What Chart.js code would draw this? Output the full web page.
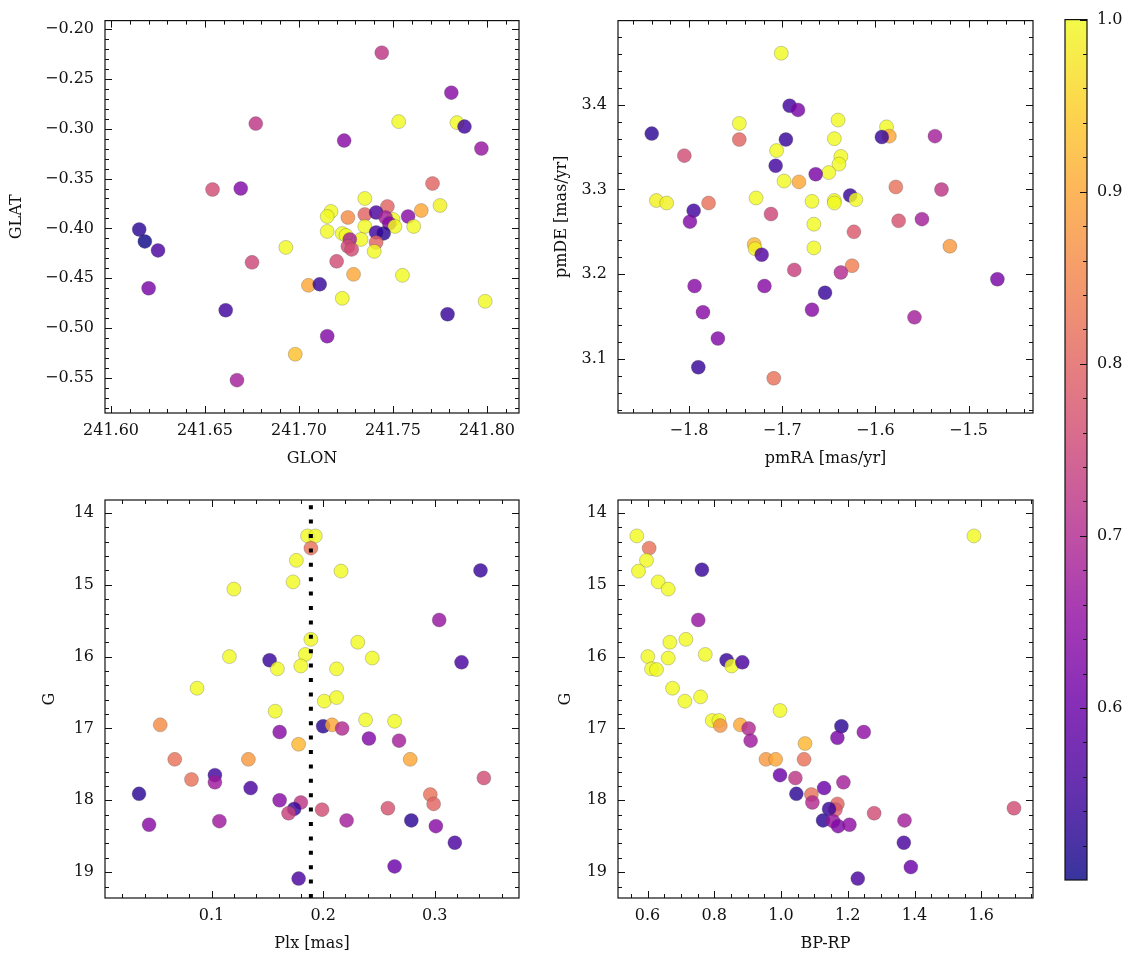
<!DOCTYPE html>
<html>
<head>
<meta charset="utf-8">
<script src="https://cdn.jsdelivr.net/npm/chart.js@4.4.1/dist/chart.umd.min.js"></script>
<style>
  html, body { margin: 0; padding: 0; background: #fff; }
  #fig { position: relative; width: 1133px; height: 965px; }
  #fig canvas { position: absolute; left: 0; top: 0; }
</style>
</head>
<body>
<div id="fig">
  <canvas id="posChart" width="1133" height="965"></canvas>
  <canvas id="pmChart" width="1133" height="965"></canvas>
  <canvas id="plxChart" width="1133" height="965"></canvas>
  <canvas id="cmdChart" width="1133" height="965"></canvas>
  <canvas id="cbar" width="1133" height="965"></canvas>
</div>
<script>
'use strict';

// ---- data -----------------------------------------------------------------
// panel 1: sky position
const glon = [241.677, 241.654, 241.669, 241.615, 241.618, 241.625, 241.620, 241.693, 241.675, 241.705,
  241.711, 241.661, 241.698, 241.667, 241.744, 241.781, 241.753, 241.784, 241.788, 241.724,
  241.797, 241.771, 241.735, 241.775, 241.747, 241.765, 241.717, 241.715, 241.726, 241.735,
  241.741, 241.758, 241.750, 241.746, 241.748, 241.751, 241.761, 241.735, 241.715, 241.723,
  241.725, 241.741, 241.745, 241.733, 241.727, 241.741, 241.726, 241.728, 241.740, 241.720,
  241.729, 241.755, 241.723, 241.799, 241.779, 241.715];
const glat = [-0.295, -0.361, -0.360, -0.401, -0.413, -0.422, -0.460, -0.419, -0.434, -0.457,
  -0.456, -0.482, -0.526, -0.552, -0.224, -0.264, -0.293, -0.294, -0.298, -0.312,
  -0.320, -0.355, -0.370, -0.377, -0.378, -0.382, -0.383, -0.388, -0.389, -0.386,
  -0.384, -0.388, -0.391, -0.389, -0.395, -0.398, -0.398, -0.398, -0.403, -0.405,
  -0.407, -0.404, -0.405, -0.411, -0.411, -0.414, -0.418, -0.421, -0.423, -0.433,
  -0.446, -0.447, -0.470, -0.473, -0.486, -0.508];
const probPos = [0.72, 0.76, 0.63, 0.53, 0.50, 0.56, 0.62, 1.00, 0.75, 0.90,
  0.54, 0.55, 0.93, 0.68, 0.72, 0.64, 1.00, 1.00, 0.55, 0.64,
  0.66, 0.80, 1.00, 0.99, 0.80, 0.90, 1.00, 1.00, 0.86, 0.80,
  0.56, 0.64, 1.00, 0.68, 0.64, 1.00, 1.00, 1.00, 1.00, 1.00,
  1.00, 0.55, 0.53, 1.00, 0.68, 0.80, 0.76, 0.76, 1.00, 0.76,
  0.90, 1.00, 1.00, 1.00, 0.54, 0.63];

// panel 2: proper motions
const pmra = [-1.701, -1.692, -1.683, -1.840, -1.746, -1.746, -1.696, -1.805, -1.706, -1.707,
  -1.698, -1.682, -1.835, -1.824, -1.779, -1.795, -1.799, -1.728, -1.712, -1.730,
  -1.729, -1.722, -1.687, -1.794, -1.719, -1.785, -1.769, -1.790, -1.709, -1.640,
  -1.644, -1.588, -1.585, -1.593, -1.536, -1.637, -1.639, -1.650, -1.664, -1.578,
  -1.529, -1.668, -1.644, -1.644, -1.627, -1.621, -1.575, -1.550, -1.666, -1.623,
  -1.666, -1.520, -1.625, -1.637, -1.469, -1.654, -1.668, -1.558];
const pmde = [3.461, 3.399, 3.394, 3.366, 3.378, 3.359, 3.359, 3.340, 3.346, 3.328,
  3.310, 3.309, 3.287, 3.284, 3.284, 3.275, 3.262, 3.290, 3.271, 3.235,
  3.230, 3.223, 3.205, 3.186, 3.186, 3.155, 3.124, 3.090, 3.077, 3.382,
  3.360, 3.374, 3.363, 3.362, 3.363, 3.339, 3.330, 3.320, 3.318, 3.303,
  3.300, 3.286, 3.287, 3.284, 3.293, 3.288, 3.263, 3.265, 3.259, 3.250,
  3.231, 3.233, 3.210, 3.202, 3.194, 3.178, 3.158, 3.149];
const probPm = [1.00, 0.55, 0.62, 0.53, 1.00, 0.80, 0.54, 0.76, 1.00, 0.55,
  1.00, 0.90, 0.99, 0.99, 0.82, 0.55, 0.63, 1.00, 0.75, 0.92,
  0.99, 0.57, 0.74, 0.64, 0.64, 0.64, 0.63, 0.54, 0.82, 1.00,
  1.00, 1.00, 0.90, 0.54, 0.68, 1.00, 1.00, 1.00, 0.62, 0.82,
  0.72, 1.00, 1.00, 1.00, 0.54, 1.00, 0.77, 0.68, 1.00, 0.78,
  1.00, 0.88, 0.84, 0.70, 0.62, 0.54, 0.64, 0.68];

// panel 3: parallax vs G
const plx = [0.186, 0.193, 0.189, 0.176, 0.173, 0.120, 0.189, 0.184, 0.116, 0.152,
  0.159, 0.180, 0.087, 0.157, 0.054, 0.161, 0.178, 0.067, 0.133, 0.082,
  0.103, 0.103, 0.135, 0.035, 0.161, 0.180, 0.174, 0.169, 0.044, 0.107,
  0.178, 0.216, 0.341, 0.304, 0.231, 0.244, 0.324, 0.212, 0.201, 0.212,
  0.200, 0.208, 0.217, 0.238, 0.264, 0.241, 0.268, 0.278, 0.344, 0.296,
  0.299, 0.199, 0.258, 0.221, 0.279, 0.301, 0.318, 0.264];
const gPlx = [14.32, 14.32, 14.49, 14.66, 14.96, 15.06, 15.76, 15.97, 16.00, 16.05,
  16.17, 16.13, 16.44, 16.76, 16.95, 17.05, 17.22, 17.43, 17.43, 17.71,
  17.65, 17.75, 17.83, 17.91, 18.00, 18.03, 18.12, 18.18, 18.34, 18.29,
  19.09, 14.81, 14.80, 15.49, 15.80, 16.02, 16.08, 16.17, 16.62, 16.57,
  16.97, 16.95, 17.00, 16.88, 16.90, 17.14, 17.17, 17.43, 17.69, 17.92,
  18.05, 18.13, 18.11, 18.28, 18.28, 18.36, 18.59, 18.92];
const probPlx = [1.00, 1.00, 0.82, 1.00, 1.00, 1.00, 1.00, 1.00, 1.00, 0.54,
  1.00, 1.00, 1.00, 1.00, 0.86, 0.64, 0.92, 0.82, 0.88, 0.82,
  0.55, 0.67, 0.56, 0.53, 0.64, 0.72, 0.54, 0.74, 0.64, 0.67,
  0.56, 1.00, 0.54, 0.66, 1.00, 1.00, 0.56, 1.00, 1.00, 1.00,
  0.53, 0.90, 0.70, 1.00, 1.00, 0.63, 0.68, 0.90, 0.76, 0.82,
  0.80, 0.76, 0.77, 0.68, 0.53, 0.64, 0.56, 0.60];
const plxCut = 0.189;

// panel 4: colour-magnitude
const bprp = [0.568, 0.605, 0.597, 0.573, 0.763, 0.632, 0.662, 0.752, 0.667, 0.715,
  0.601, 0.662, 0.773, 0.612, 0.627, 0.837, 0.852, 0.884, 0.675, 0.712,
  0.759, 0.997, 0.794, 0.814, 0.818, 0.878, 0.903, 0.909, 1.072, 0.955,
  0.984, 1.069, 0.997, 1.043, 1.046, 1.578, 1.181, 1.169, 1.248, 1.187,
  1.129, 1.091, 1.094, 1.169, 1.163, 1.144, 1.279, 1.126, 1.156, 1.171,
  1.205, 1.370, 1.698, 1.368, 1.389, 1.230];
const gCmd = [14.32, 14.49, 14.66, 14.81, 14.79, 14.96, 15.06, 15.49, 15.80, 15.76,
  16.00, 16.02, 15.97, 16.17, 16.18, 16.05, 16.13, 16.08, 16.44, 16.62,
  16.56, 16.75, 16.89, 16.89, 16.96, 16.95, 17.00, 17.17, 17.21, 17.43,
  17.43, 17.43, 17.65, 17.69, 17.91, 14.32, 16.97, 17.13, 17.05, 17.75,
  17.83, 17.92, 18.03, 18.05, 18.13, 18.12, 18.18, 18.28, 18.29, 18.36,
  18.34, 18.28, 18.11, 18.59, 18.93, 19.09];
const probCmd = [1.00, 0.82, 1.00, 1.00, 0.54, 1.00, 1.00, 0.66, 1.00, 1.00,
  1.00, 1.00, 1.00, 1.00, 1.00, 0.54, 1.00, 0.56, 1.00, 1.00,
  1.00, 1.00, 1.00, 1.00, 0.87, 0.90, 0.70, 0.67, 0.92, 0.88,
  0.90, 0.82, 0.60, 0.72, 0.53, 1.00, 0.53, 0.62, 0.65, 0.68,
  0.60, 0.82, 0.70, 0.80, 0.78, 0.54, 0.76, 0.53, 0.66, 0.63,
  0.65, 0.68, 0.76, 0.56, 0.60, 0.56];

// tick labels
const glonTicks = [241.60, 241.65, 241.70, 241.75, 241.80];
const glatTicks = [-0.55, -0.50, -0.45, -0.40, -0.35, -0.30, -0.25, -0.20];
const pmraTicks = [-1.8, -1.7, -1.6, -1.5];
const pmdeTicks = [3.1, 3.2, 3.3, 3.4];
const plxTicks = [0.1, 0.2, 0.3];
const gTicks = [14, 15, 16, 17, 18, 19];
const bprpTicks = [0.6, 0.8, 1.0, 1.2, 1.4, 1.6];
const probTicks = [0.6, 0.7, 0.8, 0.9, 1.0];

// ---- styling ---------------------------------------------------------------
const FONT = 'DejaVu Serif';
const TICK_FONT = { family: FONT, size: 16 };
const TITLE_FONT = { family: FONT, size: 16, lineHeight: 1.2 };
const INK = '#111';
// plasma colormap sampled every 0.1
const PLASMA = ['#0d0887', '#41049d', '#6a00a8', '#8f0da4', '#b12a90', '#cc4778',
  '#e16462', '#f2844b', '#fca636', '#fcce25', '#f0f921'];
const P_MIN = 0.5, P_MAX = 1.0, ALPHA = 0.82;

Chart.defaults.font.family = FONT;
Chart.defaults.color = INK;

function rgbOf(hex) {
  return [parseInt(hex.slice(1, 3), 16), parseInt(hex.slice(3, 5), 16), parseInt(hex.slice(5, 7), 16)];
}
function plasma(t, a) {
  t = Math.min(1, Math.max(0, t));
  const f = t * (PLASMA.length - 1);
  const i = Math.min(Math.floor(f), PLASMA.length - 2);
  const u = f - i;
  const c0 = rgbOf(PLASMA[i]), c1 = rgbOf(PLASMA[i + 1]);
  const c = c0.map((v, k) => Math.round(v + (c1[k] - v) * u));
  return `rgba(${c[0]},${c[1]},${c[2]},${a})`;
}
const probColor = p => plasma((p - P_MIN) / (P_MAX - P_MIN), ALPHA);

const minus = s => s.replace('-', '\u2212');

// inward major/minor ticks on the frame, matplotlib "science" look
const frameTicks = {
  id: 'frameTicks',
  afterDraw(chart, args, opts) {
    const { ctx, chartArea: a } = chart;
    ctx.save();
    ctx.strokeStyle = INK;
    ctx.lineWidth = 1;
    ['x', 'y'].forEach(id => {
      const s = chart.scales[id];
      const minor = opts[id];
      if (!s || !minor || !s.options.display) return;
      const majors = s.ticks.map(t => t.value);
      const lo = Math.min(s.min, s.max), hi = Math.max(s.min, s.max);
      const marks = majors.map(v => [v, 7]);
      for (let k = Math.ceil(lo / minor - 1e-6); k * minor <= hi + 1e-9; k++) {
        const v = k * minor;
        if (!majors.some(m => Math.abs(m - v) < minor / 10)) marks.push([v, 4]);
      }
      const sides = opts.sides || ['left', 'right'];
      ctx.beginPath();
      marks.forEach(([v, len]) => {
        const p = Math.round(s.getPixelForValue(v)) + 0.5;
        if (id === 'x') {
          if (p < a.left || p > a.right) return;
          ctx.moveTo(p, a.bottom); ctx.lineTo(p, a.bottom - len);
          ctx.moveTo(p, a.top); ctx.lineTo(p, a.top + len);
        } else {
          if (p < a.top || p > a.bottom) return;
          if (sides.includes('left')) { ctx.moveTo(a.left, p); ctx.lineTo(a.left + len, p); }
          if (sides.includes('right')) { ctx.moveTo(a.right, p); ctx.lineTo(a.right - len, p); }
        }
      });
      ctx.stroke();
    });
    ctx.lineWidth = 1.2;
    ctx.strokeRect(a.left, a.top, a.right - a.left, a.bottom - a.top);
    ctx.restore();
  }
};

function axis(cfg) {
  const horizontal = cfg.pos === 'bottom';
  return {
    type: 'linear',
    position: cfg.pos,
    min: cfg.min, max: cfg.max,
    reverse: !!cfg.reverse,
    grid: { display: false, drawTicks: false },
    border: { display: false },
    afterBuildTicks: s => { s.ticks = cfg.ticks.map(v => ({ value: v })); },
    afterFit: s => { if (horizontal) s.height = cfg.size; else s.width = cfg.size; },
    ticks: {
      font: TICK_FONT, color: INK, maxRotation: 0, autoSkip: false,
      padding: horizontal ? 8.4 : 11,
      callback: v => minus(Number(v).toFixed(cfg.dec))
    },
    title: { display: !!cfg.title, text: cfg.title, font: TITLE_FONT, color: INK, padding: 0 }
  };
}

function scatterPanel(id, xs, ys, ps, o) {
  const datasets = [{
    type: 'scatter',
    order: 1,
    data: xs.map((x, i) => ({ x, y: ys[i] })),
    backgroundColor: ps.map(probColor),
    borderColor: 'rgba(70,70,70,0.45)',
    borderWidth: 0.6,
    pointRadius: 7,
    pointHoverRadius: 7
  }];
  if (o.extra) datasets.push(o.extra);
  return new Chart(document.getElementById(id), {
    type: 'scatter',
    data: { datasets },
    plugins: [frameTicks],
    options: {
      responsive: false, animation: false, events: [], devicePixelRatio: 1,
      layout: { padding: o.pad },
      plugins: { legend: { display: false }, tooltip: { enabled: false }, frameTicks: o.minor },
      scales: { x: axis(o.x), y: axis(o.y) }
    }
  });
}

// x-axis height puts tick labels ~18px and titles ~45px below the frame
const X_H = 55.1;

scatterPanel('posChart', glon, glat, probPos, {
  pad: { left: 7.4, right: 614, top: 15, bottom: 965 - 413 - X_H },
  minor: { x: 0.01, y: 0.01 },
  x: { pos: 'bottom', min: 241.5968, max: 241.817, ticks: glonTicks, dec: 2, title: 'GLON', size: X_H },
  y: { pos: 'left', min: -0.5849, max: -0.1918, ticks: glatTicks, dec: 2, title: 'GLAT', size: 97.6 }
});

scatterPanel('pmChart', pmra, pmde, probPm, {
  pad: { left: 551.9, right: 100, top: 15, bottom: 965 - 413 - X_H },
  minor: { x: 0.02, y: 0.02 },
  x: { pos: 'bottom', min: -1.8762, max: -1.4308, ticks: pmraTicks, dec: 1, title: 'pmRA [mas/yr]', size: X_H },
  y: { pos: 'left', min: 3.036, max: 3.4995, ticks: pmdeTicks, dec: 1, title: 'pmDE [mas/yr]', size: 66.1 }
});

scatterPanel('plxChart', plx, gPlx, probPlx, {
  pad: { left: 40.4, right: 614, top: 500, bottom: 965 - 898 - X_H },
  minor: { x: 0.02, y: 0.2 },
  x: { pos: 'bottom', min: 0.0045, max: 0.3755, ticks: plxTicks, dec: 1, title: 'Plx [mas]', size: X_H },
  y: { pos: 'left', min: 13.82, max: 19.36, reverse: true, ticks: gTicks, dec: 0, title: 'G', size: 64.6 },
  extra: {
    type: 'line',
    order: 0,
    data: [{ x: plxCut, y: 19.36 }, { x: plxCut, y: 13.82 }],
    borderColor: '#000',
    borderWidth: 4,
    borderDash: [4, 10.4],
    borderCapStyle: 'butt',
    pointRadius: 0,
    fill: false
  }
});

scatterPanel('cmdChart', bprp, gCmd, probCmd, {
  pad: { left: 556.4, right: 100, top: 500, bottom: 965 - 898 - X_H },
  minor: { x: 0.05, y: 0.2 },
  x: { pos: 'bottom', min: 0.5116, max: 1.755, ticks: bprpTicks, dec: 1, title: 'BP-RP', size: X_H },
  y: { pos: 'left', min: 13.82, max: 19.36, reverse: true, ticks: gTicks, dec: 0, title: 'G', size: 61.6 }
});

// colorbar: gradient painted along the library's y scale
const cbarFill = {
  id: 'cbarFill',
  beforeDatasetsDraw(chart) {
    const { ctx, chartArea: a, scales: { y } } = chart;
    const y0 = y.getPixelForValue(P_MIN), y1 = y.getPixelForValue(P_MAX);
    const g = ctx.createLinearGradient(0, y0, 0, y1);
    for (let i = 0; i <= 40; i++) g.addColorStop(i / 40, plasma(i / 40, ALPHA));
    ctx.save();
    ctx.fillStyle = g;
    ctx.fillRect(a.left, a.top, a.right - a.left, a.bottom - a.top);
    ctx.restore();
  }
};

const cbAxis = axis({ pos: 'right', min: P_MIN, max: P_MAX, ticks: probTicks, dec: 1, size: 40 });
cbAxis.ticks.padding = 10;

new Chart(document.getElementById('cbar'), {
  type: 'scatter',
  data: { datasets: [] },
  plugins: [cbarFill, frameTicks],
  options: {
    responsive: false, animation: false, events: [], devicePixelRatio: 1,
    layout: { padding: { left: 1065, right: 1133 - 1087 - 40, top: 15, bottom: 965 - 880 } },
    plugins: { legend: { display: false }, tooltip: { enabled: false }, frameTicks: { y: 0.02, sides: ['right'] } },
    scales: {
      x: { display: false, min: 0, max: 1 },
      y: cbAxis
    }
  }
});
</script>
</body>
</html>
